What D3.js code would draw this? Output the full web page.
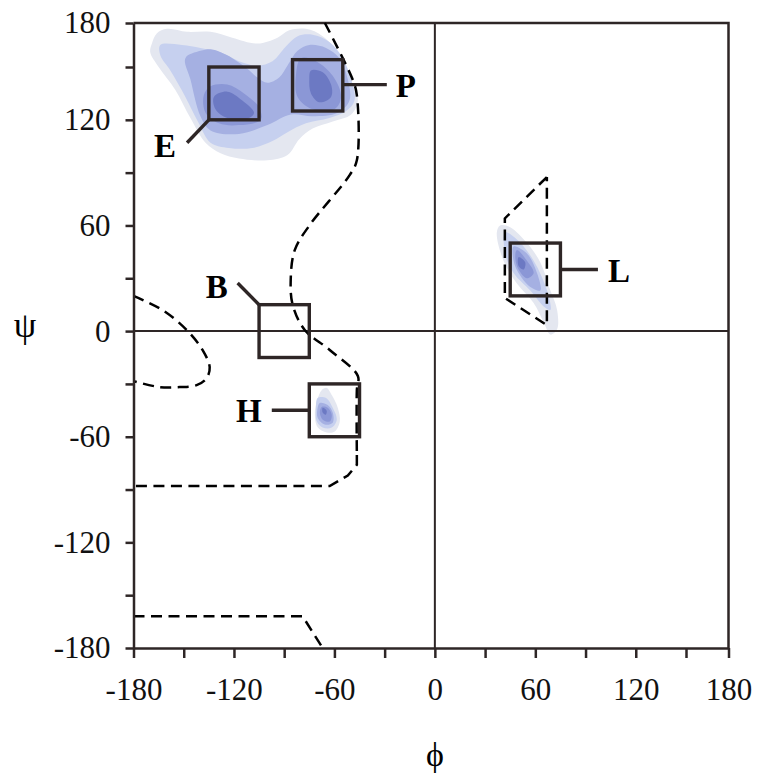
<!DOCTYPE html>
<html>
<head>
<meta charset="utf-8">
<script src="https://cdn.jsdelivr.net/npm/d3@7"></script>
<style>
  body { margin: 0; background: #fff; }
</style>
</head>
<body>
<div id="chart"></div>
<script>
// Axis ticks
const tickValues = d3.range(-180, 181, 30);
const labelValues = [-180, -120, -60, 0, 60, 120, 180];

// Density contours, [level, [[phi, psi], ...]]
const contoursEP = [
  [1, [[-169,166],[-166,173],[-160,176],[-148,174],[-134,174],[-121,170],[-106,166],[-94,170],[-87,175],[-77,176],[-67,171],[-57,158],[-49,140],[-46,131],[-50,123],[-61,119],[-73,115],[-81,109],[-88,100],[-100,97],[-117,98],[-128,101],[-137,107],[-146,121],[-155,137],[-165,150],[-170,160]]],
  [2, [[-164,165],[-151,165],[-140,163],[-128,160],[-117,154],[-106,151],[-97,154],[-89,164],[-82,171],[-73,172],[-63,167],[-55,156],[-50,143],[-48,131],[-53,125],[-63,121],[-77,118],[-88,113],[-97,108],[-109,104],[-123,104],[-134,107],[-141,118],[-149,133],[-158,148],[-164,158]]],
  [3, [[-149,156],[-140,161],[-133,162],[-124,158],[-112,149],[-106,144],[-100,141],[-93,144],[-88,151],[-82,161],[-75,165],[-65,163],[-57,156],[-52,143],[-51,131],[-58,124],[-73,122],[-86,123],[-100,117],[-117,112],[-134,114],[-140,122],[-146,143]]],
  [4, [[-138,134],[-134,139],[-124,140],[-114,135],[-105,127],[-104,120],[-117,117],[-129,118],[-137,124]]],
  [4, [[-80,156],[-71,154],[-61,145],[-56,133],[-60,126],[-73,126],[-82,133],[-83,145]]],
  [5, [[-132,133],[-124,136],[-115,131],[-108,124],[-111,121],[-124,121],[-131,126]]],
  [5, [[-74,148],[-67,147],[-62,140],[-62,133],[-69,130],[-74,135],[-75,143]]]
];
const contoursL = [
  [1, [[37,56],[39,60],[45,59],[55,50],[63,39],[69,23],[73,12],[73,1],[69,-2],[65,5],[59,16],[49,27],[41,40]]],
  [2, [[42,56],[49,52],[59,40],[67,23],[69,12],[65,14],[57,23],[47,33],[42,44]]],
  [3, [[47,48],[55,44],[61,33],[63,23],[57,25],[50,33],[47,40]]],
  [4, [[49,46],[55,40],[59,33],[55,30],[50,35],[48,42]]],
  [5, [[50,42],[54,39],[53,35],[50,37]]]
];
const contoursH = [
  [1, [[-67.5,-33.5],[-64.6,-32.3],[-61.6,-36.3],[-58,-43.5],[-56.8,-51.4],[-59.8,-57.1],[-64.6,-57.6],[-69.9,-54.8],[-71.7,-47.5],[-70.5,-39.9]]],
  [2, [[-70,-38],[-65,-38],[-61,-43.5],[-58.6,-50.3],[-61.6,-54.8],[-67,-54.8],[-70.5,-51.4],[-71,-43.5]]],
  [3, [[-68.7,-40.8],[-64,-42],[-61,-46.3],[-61,-52],[-65.8,-53],[-70,-49.2],[-70,-43.5]]],
  [4, [[-67.5,-43],[-64,-43.5],[-61.6,-47.5],[-62.8,-51.4],[-67,-50.3],[-68.7,-46.3]]],
  [5, [[-67,-43.5],[-64.6,-45.2],[-65.2,-47.5],[-67,-46.3]]]
];

// Dashed allowed-region boundaries
const boundaryUpper = [[-65.7,180],[-49,142.6],[-46.6,134],[-46.6,97],[-50.8,88.7],[-74.7,60.3],[-83.7,46],[-86.1,29],[-84.9,14.8],[-77.7,0.6],[-62.8,-10.7],[-46,-25.5],[-46.6,-33.5],[-46.6,-70.4]];
const boundaryLower = [[-46.6,-70.4],[-46.6,-76],[-52,-82],[-62.8,-88],[-180,-88]];
const boundaryBottom = [[-180,-162],[-79,-162],[-67,-180]];
const boundaryLoop = [[-180,20],[-162.6,11.9],[-148.2,0.6],[-138.7,-10.8],[-134.5,-20.5],[-136.3,-26.7],[-142.3,-30.7],[-152.4,-31.8],[-164.4,-31.8],[-180,-28.4]];
const boundaryL = [[66.9,87.5],[41.8,64],[41.8,18.8],[66.9,3.4],[66.9,87.5]];

// Secondary structure boxes
const boxNames = ["E", "P", "B", "H", "L"];
const boxPhi = [[-135,-105], [-85,-55], [-105,-75], [-75,-45], [45,75]];
const boxPsi = [[120,150], [125,155], [-15,15], [-60,-30], [20,50]];
const leaderStart = [[-135,120], [-55,140], [-105,15], [-75,-45], [75,35]];
const leaderEnd = [[-148,107], [-28.7,140], [-117.8,27.3], [-97.4,-45], [97.4,35]];

const levelColors = ["#e4e7f0", "#c6d0ef", "#a5b0e2", "#8b97d6", "#6c79c3"];
const ink = "#2e2626";
const serif = "'Liberation Serif', 'Times New Roman', serif";

const svg = d3.select("#chart").append("svg")
    .attr("width", 757)
    .attr("height", 777);

const x = d3.scaleLinear().domain([-180, 150, 180]).range([133.5, 686, 728.5]);
const y = d3.scaleLinear().domain([-180, 150, 180]).range([648, 67, 23]);

// Contour fills
const area = d3.line().x(d => x(d[0])).y(d => y(d[1])).curve(d3.curveCatmullRomClosed.alpha(0.5));
[contoursEP, contoursL, contoursH].forEach(set => {
    svg.append("g").selectAll("path")
        .data(set)
        .enter().append("path")
        .attr("d", d => area(d[1]))
        .attr("fill", d => levelColors[d[0] - 1]);
});

// Zero lines and frame
svg.append("line")
    .attr("x1", x(-180)).attr("x2", x(180))
    .attr("y1", y(0)).attr("y2", y(0))
    .attr("stroke", ink).attr("stroke-width", 2);
svg.append("line")
    .attr("x1", x(0)).attr("x2", x(0))
    .attr("y1", y(180)).attr("y2", y(-180))
    .attr("stroke", ink).attr("stroke-width", 2);
svg.append("path")
    .attr("d", `M${x(-180)},${y(180)}H${x(180)}V${y(-180)}`)
    .attr("fill", "none").attr("stroke", ink).attr("stroke-width", 2.5);

// Dashed boundaries
const curved = d3.line().x(d => x(d[0])).y(d => y(d[1])).curve(d3.curveCatmullRom.alpha(0.5));
const straight = d3.line().x(d => x(d[0])).y(d => y(d[1]));
[[boundaryUpper, curved], [boundaryLower, straight], [boundaryBottom, straight], [boundaryLoop, curved], [boundaryL, straight]].forEach(([pts, gen]) => {
    svg.append("path")
        .attr("d", gen(pts))
        .attr("fill", "none")
        .attr("stroke", "#000")
        .attr("stroke-width", 2.5)
        .attr("stroke-dasharray", "11,6.5");
});

// Boxes, leaders and labels
const labelOffset = [[-22, 14], [19, 12], [-21, 15], [-23, 12], [21, 13]];
boxNames.forEach((name, i) => {
    svg.append("rect")
        .attr("x", x(boxPhi[i][0]))
        .attr("y", y(boxPsi[i][1]))
        .attr("width", x(boxPhi[i][1]) - x(boxPhi[i][0]))
        .attr("height", y(boxPsi[i][0]) - y(boxPsi[i][1]))
        .attr("fill", "none")
        .attr("stroke", ink)
        .attr("stroke-width", 3.4);
    svg.append("line")
        .attr("x1", x(leaderStart[i][0])).attr("y1", y(leaderStart[i][1]))
        .attr("x2", x(leaderEnd[i][0])).attr("y2", y(leaderEnd[i][1]))
        .attr("stroke", ink).attr("stroke-width", 3.4);
    svg.append("text")
        .attr("x", x(leaderEnd[i][0]) + labelOffset[i][0])
        .attr("y", y(leaderEnd[i][1]) + labelOffset[i][1])
        .attr("text-anchor", "middle")
        .attr("font-family", serif)
        .attr("font-weight", "bold")
        .attr("font-size", 33)
        .attr("fill", "#000")
        .text(name);
});

// Axes
const fmt = d => labelValues.includes(d) ? String(d) : "";
const xAxis = svg.append("g")
    .attr("transform", `translate(0,${y(-180)})`)
    .call(d3.axisBottom(x).tickValues(tickValues).tickSize(10).tickSizeOuter(0).tickPadding(20).tickFormat(fmt));
const yAxis = svg.append("g")
    .attr("transform", `translate(${x(-180)},0)`)
    .call(d3.axisLeft(y).tickValues(tickValues).tickSize(8).tickSizeOuter(0).tickPadding(15).tickFormat(fmt));
[xAxis, yAxis].forEach(g => {
    g.attr("font-family", serif).attr("font-size", 31);
    g.select(".domain").attr("stroke", ink).attr("stroke-width", 2.5);
    g.selectAll(".tick line").attr("stroke", ink).attr("stroke-width", 2.5);
    g.selectAll(".tick text").attr("fill", "#111");
});

// Axis titles
svg.append("text")
    .attr("x", 435).attr("y", 766)
    .attr("text-anchor", "middle")
    .attr("font-family", serif).attr("font-size", 34)
    .text("ϕ");
svg.append("text")
    .attr("x", 25).attr("y", 337)
    .attr("text-anchor", "middle")
    .attr("font-family", serif).attr("font-size", 36)
    .text("ψ");
</script>
</body>
</html>
